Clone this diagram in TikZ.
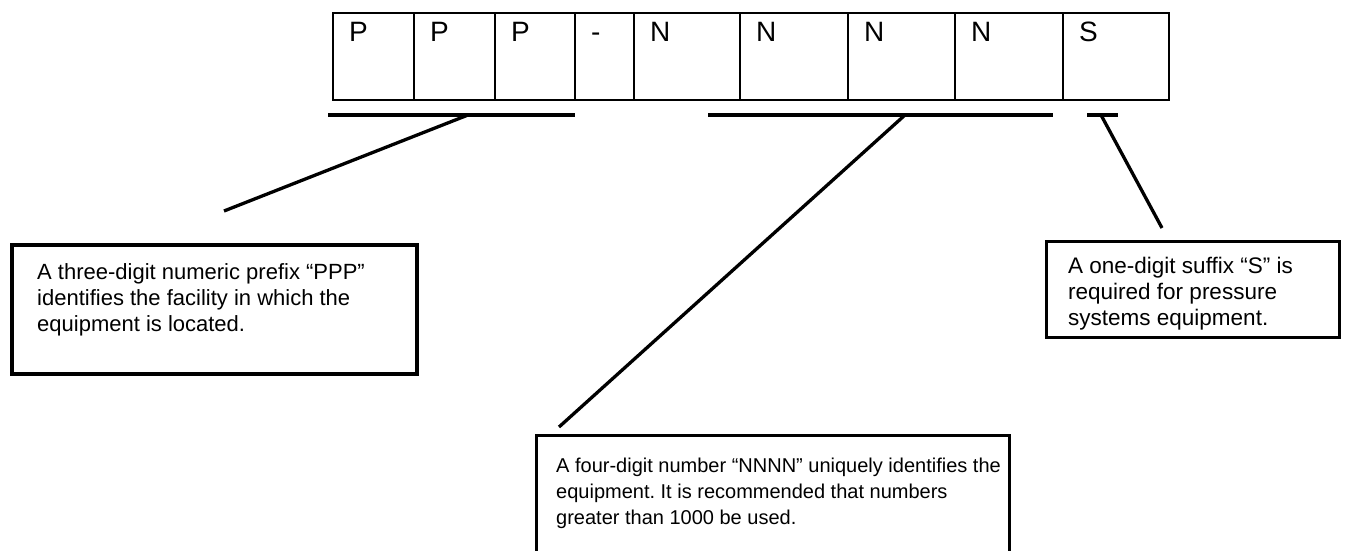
\documentclass[tikz,border=0pt]{standalone}
\usepackage{fontspec}
\setmainfont{Liberation Sans}
\frenchspacing
\begin{document}
\begin{tikzpicture}[x=1pt,y=-1pt,
  cell/.style={draw, line width=2.4pt, minimum height=86.5pt, inner sep=0pt, anchor=north west},
  letter/.style={anchor=base west, inner sep=0pt, font=\fontsize{28}{30}\selectfont, xshift=17pt, yshift=-29pt},
  underline/.style={line width=4.2pt},
  leader/.style={line width=3.3pt},
  callbox/.style={draw, line width=3pt, inner sep=0pt, anchor=north west},
  calltext/.style={anchor=north west, inner sep=0pt, align=left, font=\fontsize{22}{26}\selectfont}]
  \clip (0,0) rectangle (1348,550);
  \useasboundingbox (0,0) rectangle (1348,550);

  % the nine character cells of the equipment number
  \foreach \x/\w/\ch/\n in {332/81/P/c1, 413/81/P/c2, 494/80/P/c3, 574/59/-/c4,
                            633/106/N/c5, 739/108/N/c6, 847/107/N/c7, 954/108/N/c8, 1062/106/S/c9}
    \node[cell, minimum width=\w pt, label={[letter]north west:\ch}] (\n) at (\x,12) {};

  % bars under the prefix, number and suffix groups
  \coordinate (uP1) at (328,115);  \coordinate (uP2) at (575,115);
  \coordinate (uN1) at (708,115);  \coordinate (uN2) at (1053,115);
  \coordinate (uS1) at (1087,115); \coordinate (uS2) at (1118,115);
  \draw[underline] (uP1) -- (uP2);
  \draw[underline] (uN1) -- (uN2);
  \draw[underline] (uS1) -- (uS2);

  % explanation boxes
  \node[callbox, line width=3.6pt, minimum width=405pt, minimum height=129pt] (boxP) at (10,243) {};
  \node[calltext] (txtP) at (37,263) {A three-digit numeric prefix “PPP”\\identifies the facility in which the\\equipment is located.};

  \node[callbox, minimum width=293pt, minimum height=96pt] (boxS) at (1045,240) {};
  \node[calltext, font=\fontsize{22.5}{26}\selectfont] (txtS) at (1068,257) {A one-digit suffix “S” is\\required for pressure\\systems equipment.};

  \node[callbox, minimum width=473pt, minimum height=140pt] (boxN) at (535,434) {};
  \node[calltext, font=\fontsize{20}{26}\selectfont] (txtN) at (556,458) {A four-digit number “NNNN” uniquely identifies the\\equipment. It is recommended that numbers\\greater than 1000 be used.};

  % leader lines from the bars towards the boxes
  \coordinate (pP) at (468,115); \coordinate (eP) at (224,211);
  \coordinate (pN) at (905,115); \coordinate (eN) at (559,427);
  \coordinate (pS) at (1101,115); \coordinate (eS) at (1162,228);
  \draw[leader] (pP) -- (eP);
  \draw[leader] (pN) -- (eN);
  \draw[leader] (pS) -- (eS);
\end{tikzpicture}
\end{document}
